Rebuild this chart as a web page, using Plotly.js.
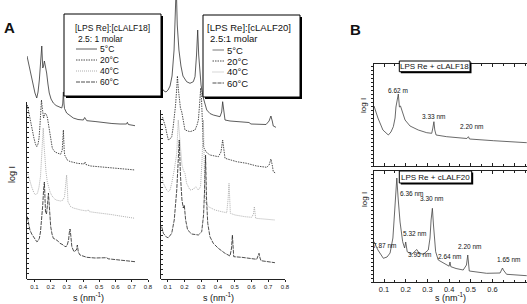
<!DOCTYPE html>
<html><head><meta charset="utf-8">
<script src="https://cdn.plot.ly/plotly-3.0.1.min.js"></script>
<style>html,body{margin:0;padding:0;background:#fff}#c{width:527px;height:304px}</style>
</head><body><div id="c"></div>
<script>
// ---------- DATA (s in nm^-1, log I in arbitrary units, curves offset) ----------
// Panel A, [LPS Re]:[cLALF18] 2.5:1
const a18_s5  = [.055,.067,.084,.095,.104,.115,.123,.131,.138,.146,.152,.157,.162,.168,.176,.184,.192,.203,.217,.234,.248,.269,.275,.279,.283,.286,.299,.320,.340,.369,.402,.410,.423,.474,.523,.578,.628,.668,.673,.679,.720];
const a18_y5  = [223,213,202,191,186,181,187,199,217,233,211,213,218,213,206,195,186,180,176,173.5,172.3,171,175,187,175,170.5,166,163,161,159.5,159,161.5,158.3,157.5,156.3,155.5,155,155,156.7,154.5,153.3];
const a18_s20 = [.057,.067,.078,.089,.098,.107,.115,.123,.129,.135,.139,.144,.149,.157,.166,.172,.180,.190,.200,.211,.227,.242,.262,.272,.279,.284,.287,.303,.320,.365,.406,.412,.418,.447,.504,.549,.597,.652,.689,.720];
const a18_y20 = [174,165,157.3,149,140.7,135,132.3,135,140.7,154,167.3,179,171,161,166,165,162,150.7,139,130.7,127,125.7,124.7,129,149,129,124,119,117.5,115.7,115,117,114.5,113,112,111.3,110.5,110,109.5,109];
const a18_s40 = [.057,.069,.084,.098,.109,.120,.129,.138,.144,.150,.155,.160,.166,.172,.180,.197,.209,.232,.262,.277,.286,.294,.299,.304,.307,.324,.340,.386,.423,.431,.440,.474,.525,.572,.628,.677,.720];
const a18_y40 = [107,99,92,86,84,86,92,102.3,119,139,151,134,119,107,97.3,87,83,79,78,79,82.3,94,104,89,77.3,72.3,71,69,68,69.5,67.3,66.5,65.7,64.5,63,62,60.7];
const a18_s60 = [.057,.064,.073,.084,.094,.104,.115,.123,.131,.138,.146,.152,.157,.162,.169,.175,.181,.187,.192,.201,.209,.217,.238,.258,.279,.289,.301,.311,.316,.320,.325,.331,.344,.359,.365,.371,.381,.423,.474,.525,.546,.554,.628,.677,.720];
const a18_y60 = [62.3,56,49,45,42.3,39,37.3,38,40.7,47,59,74,89,97,67,65,74,86,74,52.3,45,40.7,39,35.7,34,32.3,33,39,47,50,43,32.3,27.3,29,34,27,24,21.7,21,20.7,21.3,20.2,19,18,17.3];
// Panel A, [LPS Re]:[cLALF20] 2.5:1
const a20_s5  = [.064,.078,.090,.102,.114,.126,.138,.145,.151,.157,.167,.179,.191,.213,.233,.253,.263,.272,.279,.285,.290,.299,.311,.323,.333,.352,.372,.412,.422,.428,.435,.442,.472,.512,.571,.585,.597,.651,.687,.705,.716,.724,.730,.746];
const a20_y5  = [191,188,187,189,193,203,229,254,294,254,229,213,203,197.3,195.7,197.3,202.3,224,249,224,209,194,182,175,169,165.5,164,162.3,167,177.3,166,159,158,157.3,156.3,156.5,155,155,154.5,158,163,158,153,151.7];
const a20_s20 = [.069,.078,.087,.094,.104,.114,.124,.132,.139,.147,.154,.158,.164,.170,.176,.184,.191,.203,.233,.263,.275,.283,.290,.297,.302,.308,.313,.329,.352,.402,.418,.428,.436,.442,.512,.571,.631,.691,.705,.716,.725,.730,.746];
const a20_y20 = [162,158,152,146,139,140,142.3,151,161,174,191,203,189,175,171,167,159,149,147.3,149,154,159,174,191,179,154,132.3,127,124,122.3,127,139,125,120.7,117.3,115.7,113,111.7,114,120,113,107.3,105.7];
const a20_s40 = [.064,.074,.094,.104,.114,.124,.139,.154,.163,.170,.178,.185,.193,.203,.213,.233,.253,.267,.283,.296,.305,.313,.319,.323,.343,.382,.422,.452,.460,.466,.474,.502,.561,.601,.612,.617,.625,.681,.740];
const a20_y40 = [105,95.7,89,87.3,89,95.7,109,125.7,159,144,124,114,109,105.7,95.7,89,89.7,92.3,89,92.3,119,159,109,77.3,72.3,69,67.3,66.3,79,95.7,65.7,64,62.3,61.7,65,72.3,60.7,59.7,59];
const a20_s60 = [.064,.074,.094,.104,.124,.139,.154,.161,.169,.176,.185,.193,.199,.207,.219,.243,.283,.303,.314,.320,.326,.332,.339,.352,.372,.402,.442,.472,.481,.486,.490,.494,.542,.601,.631,.639,.645,.651,.657,.740];
const a20_y60 = [52.3,45.7,41.7,41.3,45.7,59,89,119,139,104,79,71,74,59,49,45,44,47.3,64,89,124,79,55.7,42.3,35.7,30.7,25.7,23,31,44,31,22.3,21.7,20.7,19.7,23,25.7,21,18.3,16.3];
// Panel B
const b18_s = [.054,.072,.095,.120,.132,.143,.151,.155,.166,.171,.176,.182,.197,.220,.258,.297,.320,.325,.330,.334,.340,.389,.450,.482,.489,.494,.604,.758];
const b18_y = [60,48,36,31,34,39.3,48,59,72,59,60,56,46,40,36,33.3,32.7,38,44.3,36,31,29.3,27.7,27.5,29.3,27,25.3,23.3];
const b20_s = [.054,.072,.097,.114,.128,.135,.141,.148,.159,.165,.174,.186,.195,.200,.207,.228,.238,.251,.261,.281,.304,.312,.317,.323,.328,.338,.350,.381,.400,.404,.408,.432,.465,.480,.486,.493,.573,.635,.646,.650,.656,.665,.758];
const b20_y = [40.3,32,23.7,25,29,39,44,67,104,84,60,40.3,34,40,30.3,27.7,30,32.5,29,27.7,32,44,62,73.7,57,30.3,22,17.7,15.8,20,15.3,13.5,12,17,27,11,8.7,9,14,12,10,7.7,6.3];
const b18_lab = ['6.62 m','3.33 nm','2.20 nm'];
const b18_lx  = [.165,.330,.504];
const b18_ly  = [76,49.3,39.3];
const b20_lab = ['6.36 nm','3.30 nm','7.87 nm','5.32 nm','3.95 nm','2.64 nm','2.20 nm','1.65 nm'];
const b20_lx  = [.228,.323,.105,.243,.266,.404,.496,.677];
const b20_ly  = [88.7,83.7,37,48.7,27.7,25.3,35.3,23];
const tickA = [0.1,0.2,0.3,0.4,0.5,0.6,0.7,0.8];
const tickB = [0.1,0.2,0.3,0.4,0.5,0.6];
const temps = ['5°C','20°C','40°C','60°C'];

// ---------- STYLE / LAYOUT ----------
const W=527,H=304;
const X=p=>p/W, Y=p=>1-p/H;
const F='Liberation Sans, Arial, sans-serif';
const FN='Liberation Sans Narrow, Liberation Sans, Arial, sans-serif';
const styles=[{color:'#333',dash:'solid'},{color:'#222',dash:'1.5px,1px'},{color:'#9a9a9a',dash:'1px,1px'},{color:'#222',dash:'4px,1px'}];
function tr(x,y,xa,ya,st,w){return {type:'scatter',mode:'lines',x:x,y:y,xaxis:xa,yaxis:ya,
  line:{color:st.color,dash:st.dash,width:w||0.8},hoverinfo:'skip',showlegend:false};}
const data=[
 tr(a18_s5,a18_y5,'x','y',styles[0]),tr(a18_s20,a18_y20,'x','y',styles[1]),
 tr(a18_s40,a18_y40,'x','y',styles[2]),tr(a18_s60,a18_y60,'x','y',styles[3]),
 tr(a20_s5,a20_y5,'x2','y2',styles[0]),tr(a20_s20,a20_y20,'x2','y2',styles[1]),
 tr(a20_s40,a20_y40,'x2','y2',styles[2]),tr(a20_s60,a20_y60,'x2','y2',styles[3]),
 tr(b18_s,b18_y,'x3','y3',{color:'#444',dash:'solid'},0.8),
 tr(b20_s,b20_y,'x4','y4',{color:'#444',dash:'solid'},0.8),
 {type:'scatter',x:[],y:[],xaxis:'x',yaxis:'y5',showlegend:false},
 {type:'scatter',x:[],y:[],xaxis:'x2',yaxis:'y6',showlegend:false}
];
const base={showgrid:false,zeroline:false,linecolor:'#222',linewidth:1,tickcolor:'#222',fixedrange:true};
const xA=(d,r,anc)=>Object.assign({},base,{domain:d,range:r,anchor:anc,showline:true,ticks:'outside',ticklen:2,
  tickvals:tickA,ticktext:tickA.map(v=>v.toFixed(1)),tickfont:{family:F,size:6,color:'#222'}});
const yDummy=(d,anc)=>Object.assign({},base,{domain:d,anchor:anc,range:[0,1],showline:true,ticks:'inside',ticklen:2,
  dtick:1/35,showticklabels:false});
const layout={width:W,height:H,margin:{l:0,r:0,t:0,b:0},paper_bgcolor:'#fff',plot_bgcolor:'rgba(0,0,0,0)',showlegend:false,
 font:{family:F,color:'#111'},
 xaxis:xA([X(27),X(148)],[0.055,0.80],'y'),
 yaxis:{domain:[Y(279),1],range:[0,279],visible:false,fixedrange:true,anchor:'x'},
 xaxis2:xA([X(161),X(285)],[0.06,0.80],'y2'),
 yaxis2:{domain:[Y(279),1],range:[0,279],visible:false,fixedrange:true,anchor:'x2'},
 yaxis5:yDummy([Y(279),Y(102)],'x'),
 yaxis6:yDummy([Y(279),Y(110)],'x2'),
 xaxis3:Object.assign({},base,{domain:[X(374),1],range:[0.0539,0.759],anchor:'y3',showline:true,mirror:'ticks',
   ticks:'inside',ticklen:3,tick0:0,dtick:0.1,showticklabels:false,minor:{ticks:'inside',ticklen:2,dtick:0.05,tick0:0,tickcolor:'#222'}}),
 yaxis3:Object.assign({},base,{domain:[Y(166),Y(64)],range:[0,102],anchor:'x3',showline:true,mirror:true,
   ticks:'outside',ticklen:2,dtick:4,showticklabels:false}),
 xaxis4:Object.assign({},base,{domain:[X(374),1],range:[0.0539,0.759],anchor:'y4',showline:true,mirror:'ticks',
   ticks:'inside',ticklen:3,tickvals:tickB,ticktext:tickB.map(v=>v.toFixed(1)),tickfont:{family:F,size:7.5,color:'#222'},
   minor:{ticks:'inside',ticklen:2,dtick:0.05,tick0:0,tickcolor:'#222'}}),
 yaxis4:Object.assign({},base,{domain:[Y(282),Y(171)],range:[0,111],anchor:'x4',showline:true,mirror:true,
   ticks:'outside',ticklen:2,dtick:4,showticklabels:false}),
 shapes:[],annotations:[]
};
const S=layout.shapes, A=layout.annotations;
function rectPx(x0,y0,x1,y1,fill,lw){S.push({type:'rect',xref:'paper',yref:'paper',x0:X(x0),x1:X(x1),y0:Y(y1),y1:Y(y0),
  fillcolor:fill,line:{color:'#000',width:lw},layer:'above'});}
function txt(t,px,py,size,opt){A.push(Object.assign({text:t,xref:'paper',yref:'paper',x:X(px),y:Y(py),showarrow:false,
  xanchor:'center',yanchor:'middle',font:{family:F,size:size,color:'#111'}},opt||{}));}
// legend boxes panel A
function legendBox(bx0,by0,bx1,by1,title,molar,tx,mx,sx0,sx1,ix,iy0,fs,firstStyle){
  rectPx(bx0+2,by0+2,bx1+2,by1+2,'#000',0);
  rectPx(bx0,by0,bx1,by1,'#fff',1);
  txt(title,tx,28,fs,{xanchor:'left'});
  txt(molar,mx,39,fs,{xanchor:'left'});
  temps.forEach((t,i)=>{
    const st=(i===0&&firstStyle)?firstStyle:styles[i];
    S.push({type:'line',xref:'paper',yref:'paper',x0:X(sx0),x1:X(sx1),y0:Y(iy0+11*i),y1:Y(iy0+11*i),
      line:{color:st.color,dash:st.dash,width:st.w||0.8},layer:'above'});
    txt(t,ix,iy0+11*i,fs,{xanchor:'left'});
  });
}
legendBox(64,14,161,96,'[LPS Re]:[cLALF18]','2.5: 1 molar',72.7,76,76,97,98,49,8.5,null);
legendBox(203,15,300,97,'[LPS Re]:[cLALF20]','2.5:1 molar',205,208,212.5,224,225,50,9.5,{color:'#aaa',dash:'solid',w:1.6});
// panel B boxes
rectPx(400.8,62.5,471.5,73.2,'#000',0); rectPx(399.3,61,470,71.7,'#fff',1);
txt('LPS Re + cLALF18',434.6,66.5,8,{font:{family:FN,size:8,color:'#111'}});
rectPx(400.8,172.5,473.2,184.5,'#000',0); rectPx(399.3,171,471.7,183,'#fff',1);
txt('LPS Re + cLALF20',435.5,177,8,{font:{family:FN,size:8,color:'#111'}});
// peak labels
b18_lab.forEach((t,i)=>A.push({text:t,xref:'x3',yref:'y3',x:b18_lx[i],y:b18_ly[i],showarrow:false,font:{family:FN,size:6.5,color:'#111'}}));
b20_lab.forEach((t,i)=>A.push({text:t,xref:'x4',yref:'y4',x:b20_lx[i],y:b20_ly[i],showarrow:false,font:{family:FN,size:6.5,color:'#111'}}));
// titles
txt('<b>A</b>',9,28,15);
txt('<b>B</b>',355,29,15);
txt('s (nm<sup>-1</sup>)',88,297,9);
txt('s (nm<sup>-1</sup>)',218,297,9);
txt('s (nm<sup>-1</sup>)',450,297,9);
txt('log I',12,175,9,{textangle:-90});
txt('log I',364,106,8,{textangle:-90});
txt('log I',364,200,8,{textangle:-90});
Plotly.newPlot('c',data,layout,{staticPlot:true,displayModeBar:false});
</script></body></html>
